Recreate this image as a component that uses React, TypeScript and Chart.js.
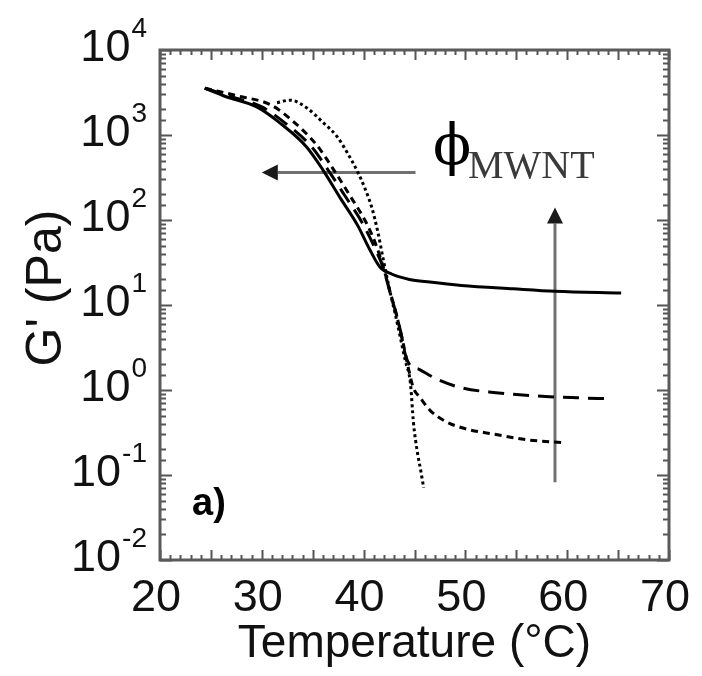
import React, { useEffect, useRef } from 'react';
import { Chart, registerables } from 'chart.js';

Chart.register(...registerables);

// ---- Data (Temperature in °C, G' in Pa) ----
const solidT = [24.4, 26.5, 29.5, 31.8, 34.4, 36.0, 37.7, 39.4, 40.6, 41.6, 42.8, 44.5, 46.5, 49.6, 54.7, 58.8, 65.3];
const solidG = [3550, 2820, 2140, 1380, 724, 389, 182, 87, 45, 28, 23, 20, 18.6, 17, 15.5, 14.5, 13.8];

const longDashT = [24.4, 27.0, 30.0, 32.3, 34.9, 36.5, 38.2, 39.9, 41.1, 41.9, 42.6, 43.2, 43.7, 44.1, 44.5, 45.5, 47.0, 49.5, 53.0, 57.0, 61.0, 64.0];
const longDashG = [3550, 2820, 2140, 1380, 724, 389, 190, 91, 47, 28, 14, 7.9, 4.5, 2.6, 2.0, 1.74, 1.38, 1.07, 0.93, 0.85, 0.81, 0.79];

const shortDashT = [24.4, 28.0, 30.8, 32.9, 35.4, 37.0, 38.7, 40.3, 41.3, 42.0, 42.7, 43.3, 43.9, 44.4, 44.9, 45.5, 46.5, 48.0, 50.0, 53.0, 56.0, 59.5];
const shortDashG = [3550, 2820, 2290, 1510, 760, 400, 190, 91, 48, 26, 13, 7.1, 3.5, 1.8, 1.05, 0.83, 0.58, 0.43, 0.35, 0.30, 0.26, 0.24];

const dottedT = [31.5, 32.8, 34.4, 36.0, 37.4, 38.4, 39.4, 40.1, 40.8, 41.4, 41.9, 42.3, 42.7, 43.1, 43.6, 44.1, 44.6, 44.9, 45.3, 45.6, 45.9];
const dottedG = [2400, 2570, 2090, 1410, 955, 617, 372, 240, 141, 72, 36, 21, 12.6, 7.9, 4.2, 2.2, 1.2, 0.41, 0.18, 0.115, 0.071];

// arrows (data coordinates)
const arrowLeftT = [45.1, 30.0];
const arrowLeftG = [363, 363];
const arrowUpT = [58.8, 58.8];
const arrowUpG = [0.082, 140];

// tick labels
const xTickLabels = [20, 30, 40, 50, 60, 70];
const yTickValues = [0.01, 0.1, 1, 10, 100, 1000, 10000];
const yTickExponents = ['-2', '-1', '0', '1', '2', '3', '4'];

const SANS = "'Liberation Sans', Arial, Helvetica, sans-serif";
const SERIF = "'Liberation Serif', 'Times New Roman', serif";

function pts(T: number[], G: number[]) {
  return T.map((t, i) => ({ x: t, y: G[i] }));
}

function drawArrow(ctx: CanvasRenderingContext2D, x1: number, y1: number, x2: number, y2: number) {
  const ang = Math.atan2(y2 - y1, x2 - x1);
  const headLen = 16;
  const headHalf = 8;
  const bx = x2 - headLen * Math.cos(ang);
  const by = y2 - headLen * Math.sin(ang);
  ctx.save();
  ctx.strokeStyle = '#707070';
  ctx.lineWidth = 3;
  ctx.beginPath();
  ctx.moveTo(x1, y1);
  ctx.lineTo(bx, by);
  ctx.stroke();
  ctx.fillStyle = '#1a1a1a';
  ctx.beginPath();
  ctx.moveTo(x2, y2);
  ctx.lineTo(bx + headHalf * Math.sin(ang), by - headHalf * Math.cos(ang));
  ctx.lineTo(bx - headHalf * Math.sin(ang), by + headHalf * Math.cos(ang));
  ctx.closePath();
  ctx.fill();
  ctx.restore();
}

const decor = {
  id: 'decor',
  beforeDatasetsDraw(chart: any) {
    const { ctx, scales } = chart;
    const xs = scales.x;
    const ys = scales.y;
    drawArrow(ctx,
      xs.getPixelForValue(arrowLeftT[0]), ys.getPixelForValue(arrowLeftG[0]),
      xs.getPixelForValue(arrowLeftT[1]), ys.getPixelForValue(arrowLeftG[1]));
    drawArrow(ctx,
      xs.getPixelForValue(arrowUpT[0]), ys.getPixelForValue(arrowUpG[0]),
      xs.getPixelForValue(arrowUpT[1]), ys.getPixelForValue(arrowUpG[1]));
  },
  afterDraw(chart: any) {
    const { ctx, chartArea, scales } = chart;
    const { left, right, top, bottom } = chartArea;
    const xs = scales.x;
    const ys = scales.y;
    ctx.save();
    // inward ticks
    ctx.strokeStyle = '#555';
    ctx.lineWidth = 2;
    ctx.beginPath();
    for (const t of xs.ticks) {
      const v = t.value;
      const px = Math.round(xs.getPixelForValue(v)) + 0.5;
      const len = Math.abs(v % 5) < 1e-6 ? 10 : 5;
      ctx.moveTo(px, bottom);
      ctx.lineTo(px, bottom - len);
      ctx.moveTo(px, top);
      ctx.lineTo(px, top + len);
    }
    for (const t of ys.ticks) {
      const v = t.value;
      const lg = Math.log10(v);
      const major = Math.abs(lg - Math.round(lg)) < 1e-6;
      const len = major ? 12 : 6;
      const py = Math.round(ys.getPixelForValue(v)) + 0.5;
      ctx.moveTo(left, py);
      ctx.lineTo(left + len, py);
      ctx.moveTo(right, py);
      ctx.lineTo(right - len, py);
    }
    ctx.stroke();
    // frame
    ctx.strokeStyle = '#5a5a5a';
    ctx.lineWidth = 3;
    ctx.strokeRect(left, top, right - left, bottom - top);

    // y tick labels with superscript exponents
    ctx.fillStyle = '#111';
    ctx.textAlign = 'right';
    yTickValues.forEach((v, i) => {
      const py = ys.getPixelForValue(v);
      const xr = 147;
      ctx.font = `28px ${SANS}`;
      ctx.textBaseline = 'alphabetic';
      const ew = ctx.measureText(yTickExponents[i]).width;
      ctx.fillText(yTickExponents[i], xr, py - 13);
      ctx.font = `45px ${SANS}`;
      ctx.textBaseline = 'middle';
      ctx.fillText('10', xr - ew - 1, py - 1);
    });

    // y title
    ctx.save();
    ctx.translate(47, 288);
    ctx.rotate(-Math.PI / 2);
    ctx.textAlign = 'center';
    ctx.textBaseline = 'middle';
    ctx.font = `50px ${SANS}`;
    ctx.fillStyle = '#111';
    ctx.fillText("G' (Pa)", 0, 0);
    ctx.restore();

    // phi_MWNT label
    ctx.textAlign = 'center';
    ctx.textBaseline = 'middle';
    ctx.font = `56px 'DejaVu Serif', ${SERIF}`;
    ctx.fillStyle = '#000';
    ctx.fillText('\u03D5', 452, 149);
    ctx.textAlign = 'left';
    ctx.textBaseline = 'alphabetic';
    ctx.font = `40px ${SERIF}`;
    ctx.fillStyle = '#3a3a3a';
    ctx.fillText('MWNT', 468, 178);

    // panel label
    ctx.font = `bold 38px ${SANS}`;
    ctx.fillStyle = '#000';
    ctx.fillText('a)', 192, 515);
    ctx.restore();
  },
};

export default function App() {
  const ref = useRef<HTMLCanvasElement | null>(null);
  useEffect(() => {
    if (!ref.current) return;
    const lineBase = {
      borderColor: '#000',
      borderWidth: 3,
      pointRadius: 0,
      fill: false,
      cubicInterpolationMode: 'monotone' as const,
    };
    const chart = new Chart(ref.current, {
      type: 'line',
      data: {
        datasets: [
          { ...lineBase, label: 'solid', data: pts(solidT, solidG) },
          { ...lineBase, label: 'long dash', data: pts(longDashT, longDashG), borderDash: [16, 9] },
          { ...lineBase, label: 'short dash', data: pts(shortDashT, shortDashG), borderDash: [7, 5] },
          { ...lineBase, label: 'dotted', data: pts(dottedT, dottedG), borderDash: [3, 3] },
        ],
      },
      options: {
        animation: false,
        responsive: false,
        layout: { padding: { left: 0, top: 50, right: 33, bottom: 0 } },
        plugins: { legend: { display: false }, tooltip: { enabled: false } },
        scales: {
          x: {
            type: 'linear',
            min: 20,
            max: 70,
            afterFit: (s: any) => {
              s.height = 116;
              s.paddingLeft = 0;
              s.paddingRight = 0;
            },
            grid: { display: false, drawTicks: false },
            border: { display: false },
            ticks: {
              stepSize: 1,
              maxTicksLimit: 100,
              autoSkip: false,
              maxRotation: 0,
              minRotation: 0,
              padding: 12,
              labelOffset: -4,
              color: '#111',
              font: { family: SANS, size: 45 },
              callback: (v: any) => (xTickLabels.includes(Number(v)) ? String(v) : ''),
            },
            title: {
              display: true,
              text: 'Temperature (°C)',
              color: '#111',
              font: { family: SANS, size: 46 },
              padding: { top: 0, bottom: 4 },
            },
          },
          y: {
            type: 'logarithmic',
            min: 0.01,
            max: 10000,
            afterFit: (s: any) => {
              s.width = 160;
              s.paddingTop = 0;
              s.paddingBottom = 0;
            },
            grid: { display: false, drawTicks: false },
            border: { display: false },
            ticks: { display: false, autoSkip: false },
          },
        },
      },
      plugins: [decor],
    } as any);
    return () => chart.destroy();
  }, []);
  return (
    <div style={{ position: 'absolute', left: 0, top: 0, width: 702, height: 676, background: '#fff' }}>
      <canvas ref={ref} width={702} height={676} style={{ display: 'block' }} />
    </div>
  );
}
